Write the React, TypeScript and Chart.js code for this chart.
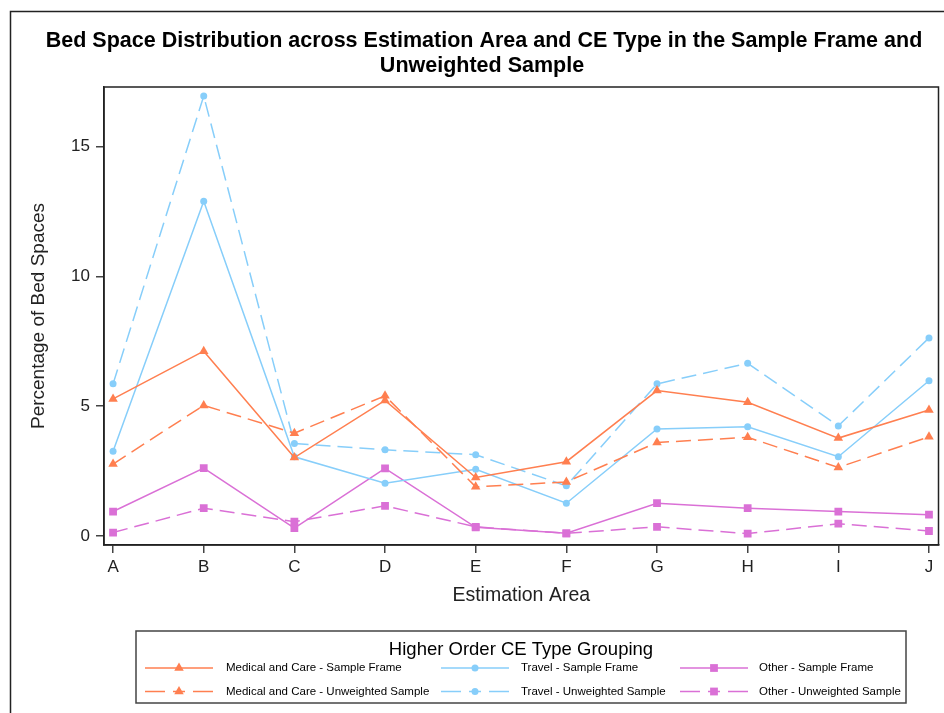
import React, { useEffect, useRef } from "react";
import { Chart, registerables } from "chart.js";

Chart.register(...registerables);

const categories = ["A", "B", "C", "D", "E", "F", "G", "H", "I", "J"];
const yTickValues = [0, 5, 10, 15];

const medicalFrame = [5.28, 7.12, 3.02, 5.22, 2.25, 2.86, 5.6, 5.15, 3.77, 4.85];
const medicalUnweighted = [2.77, 5.03, 3.96, 5.4, 1.89, 2.08, 3.6, 3.8, 2.64, 3.82];
const travelFrame = [3.26, 12.9, 3.05, 2.03, 2.57, 1.26, 4.12, 4.21, 3.05, 5.98];
const travelUnweighted = [5.86, 16.95, 3.56, 3.32, 3.13, 1.93, 5.86, 6.65, 4.24, 7.63];
const otherFrame = [0.94, 2.61, 0.3, 2.6, 0.33, 0.1, 1.26, 1.07, 0.94, 0.82];
const otherUnweighted = [0.13, 1.07, 0.55, 1.16, 0.35, 0.1, 0.35, 0.09, 0.47, 0.19];

const seriesLabels = [
  "Medical and Care - Sample Frame",
  "Medical and Care - Unweighted Sample",
  "Travel - Sample Frame",
  "Travel - Unweighted Sample",
  "Other - Sample Frame",
  "Other - Unweighted Sample",
];

const titleLines = [
  "Bed Space Distribution across Estimation Area and CE Type in the Sample Frame and",
  "Unweighted Sample",
];
const legendTitle = "Higher Order CE Type Grouping";

const CORAL = "#FF7F50";
const SKY = "#87CEFA";
const ORCHID = "#DA70D6";
const DASH = [15, 7];
const LEGEND_DASH = [20, 8, 12, 8, 20, 100];
const FONT = "'Liberation Sans', Arial, Helvetica, sans-serif";

function makeDs(label: string, values: number[], color: string, dashed: boolean, style: string, radius: number) {
  return {
    label,
    data: values.map((v, i) => ({ x: i, y: v })),
    borderColor: color,
    backgroundColor: color,
    borderWidth: 1.5,
    borderDash: dashed ? DASH : [],
    pointStyle: style,
    pointRadius: radius,
    pointBorderWidth: 0,
    pointBackgroundColor: color,
    tension: 0,
  };
}

function drawMarker(ctx: CanvasRenderingContext2D, style: string, x: number, y: number, r: number, color: string) {
  ctx.save();
  ctx.fillStyle = color;
  ctx.beginPath();
  if (style === "triangle") {
    ctx.moveTo(x, y - r);
    ctx.lineTo(x + Math.cos(Math.PI / 6) * r, y + r / 2);
    ctx.lineTo(x - Math.cos(Math.PI / 6) * r, y + r / 2);
    ctx.closePath();
  } else if (style === "rect") {
    const s = Math.SQRT1_2 * r;
    ctx.rect(x - s, y - s, 2 * s, 2 * s);
  } else {
    ctx.arc(x, y, r, 0, Math.PI * 2);
  }
  ctx.fill();
  ctx.restore();
}

const decorPlugin = {
  id: "decor",
  beforeDraw(chart: any) {
    const ctx = chart.ctx as CanvasRenderingContext2D;
    ctx.save();
    ctx.fillStyle = "#ffffff";
    ctx.fillRect(0, 0, chart.width, chart.height);
    ctx.restore();
  },
  afterDraw(chart: any) {
    const ctx = chart.ctx as CanvasRenderingContext2D;
    const area = chart.chartArea;
    ctx.save();
    // outer border (left + top)
    ctx.strokeStyle = "#222";
    ctx.lineWidth = 1.5;
    ctx.beginPath();
    ctx.moveTo(10.5, chart.height);
    ctx.lineTo(10.5, 11.5);
    ctx.lineTo(chart.width, 11.5);
    ctx.stroke();

    // plot frame
    ctx.strokeStyle = "#222";
    ctx.lineWidth = 1.5;
    ctx.strokeRect(area.left, area.top, area.right - area.left, area.bottom - area.top);

    // title
    ctx.fillStyle = "#000";
    ctx.font = `bold 21.5px ${FONT}`;
    ctx.textAlign = "center";
    ctx.textBaseline = "alphabetic";
    ctx.fillText(titleLines[0], 484, 46.5, 886);
    ctx.fillText(titleLines[1], 482, 71.5);

    // legend
    const bx = 136, by = 631, bw = 770, bh = 72;
    ctx.strokeStyle = "#444";
    ctx.lineWidth = 1.5;
    ctx.strokeRect(bx, by, bw, bh);
    ctx.fillStyle = "#000";
    ctx.font = `18.5px ${FONT}`;
    ctx.textBaseline = "middle";
    ctx.fillText(legendTitle, 521, 650, 272);

    const colX = [145, 441, 680];
    const textX = [226, 521, 759];
    const rowY = [668, 691.5];
    const lineLen = 68;
    chart.data.datasets.forEach((ds: any, i: number) => {
      const col = Math.floor(i / 2);
      const row = i % 2;
      const x0 = colX[col];
      const y = rowY[row];
      const dashed = ds.borderDash && ds.borderDash.length > 0;
      ctx.save();
      ctx.strokeStyle = ds.borderColor;
      ctx.lineWidth = 1.5;
      ctx.setLineDash(dashed ? LEGEND_DASH : []);
      ctx.beginPath();
      ctx.moveTo(x0, y);
      ctx.lineTo(x0 + lineLen, y);
      ctx.stroke();
      ctx.restore();
      drawMarker(ctx, ds.pointStyle, x0 + lineLen / 2, y, ds.pointRadius, ds.borderColor);
      ctx.fillStyle = "#000";
      ctx.font = `11.5px ${FONT}`;
      ctx.textAlign = "left";
      ctx.textBaseline = "middle";
      ctx.fillText(ds.label, textX[col], y);
    });
    ctx.restore();
  },
};

export default function App() {
  const canvasRef = useRef<HTMLCanvasElement | null>(null);

  useEffect(() => {
    document.body.style.margin = "0";
    const canvas = canvasRef.current;
    if (!canvas) return;
    const chart = new Chart(canvas, {
      type: "line",
      data: {
        datasets: [
          makeDs(seriesLabels[0], medicalFrame, CORAL, false, "triangle", 5.5),
          makeDs(seriesLabels[1], medicalUnweighted, CORAL, true, "triangle", 5.5),
          makeDs(seriesLabels[2], travelFrame, SKY, false, "circle", 3.5),
          makeDs(seriesLabels[3], travelUnweighted, SKY, true, "circle", 3.5),
          makeDs(seriesLabels[4], otherFrame, ORCHID, false, "rect", 5.5),
          makeDs(seriesLabels[5], otherUnweighted, ORCHID, true, "rect", 5.5),
        ] as any,
      },
      options: {
        animation: false,
        responsive: false,
        maintainAspectRatio: false,
        devicePixelRatio: 1,
        layout: { padding: { left: 0, top: 87, right: 5, bottom: 0 } },
        plugins: {
          legend: { display: false },
          tooltip: { enabled: false },
          title: { display: false },
        },
        scales: {
          x: {
            type: "linear",
            min: -0.1,
            max: 9.105,
            afterFit: (s: any) => {
              s.height = 168;
            },
            afterBuildTicks: (s: any) => {
              s.ticks = categories.map((_, i) => ({ value: i }));
            },
            ticks: {
              autoSkip: false,
              maxRotation: 0,
              color: "#222",
              padding: 4,
              font: { family: FONT, size: 17 },
              callback: (v: any) => categories[v as number] ?? "",
            },
            grid: {
              drawOnChartArea: false,
              drawTicks: true,
              tickLength: 8,
              color: "#444",
              lineWidth: 1.5,
            },
            border: { display: true, color: "#222", width: 1.5 },
            title: {
              display: true,
              text: "Estimation Area",
              color: "#222",
              font: { family: FONT, size: 19.5 },
              padding: { top: 0, bottom: 106 },
            },
          },
          y: {
            type: "linear",
            min: -0.35,
            max: 17.3,
            afterFit: (s: any) => {
              s.width = 104;
            },
            afterBuildTicks: (s: any) => {
              s.ticks = yTickValues.map((v) => ({ value: v }));
            },
            ticks: {
              color: "#222",
              padding: 6,
              font: { family: FONT, size: 17 },
            },
            grid: {
              drawOnChartArea: false,
              drawTicks: true,
              tickLength: 8,
              color: "#444",
              lineWidth: 1.5,
            },
            border: { display: true, color: "#222", width: 1.5 },
            title: {
              display: true,
              text: "Percentage of Bed Spaces",
              color: "#222",
              font: { family: FONT, size: 19 },
              padding: { top: 27, bottom: 0 },
            },
          },
        },
      },
      plugins: [decorPlugin],
    });
    return () => chart.destroy();
  }, []);

  return (
    <div style={{ position: "fixed", left: 0, top: 0, width: 944, height: 713 }}>
      <canvas ref={canvasRef} width={944} height={713} style={{ width: 944, height: 713, display: "block" }} />
    </div>
  );
}
